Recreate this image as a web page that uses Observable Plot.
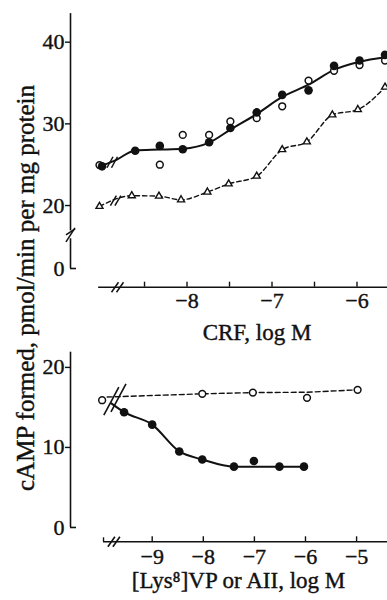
<!DOCTYPE html>
<html><head><meta charset="utf-8">
<script src="https://cdn.jsdelivr.net/npm/d3@7"></script>
<script src="https://cdn.jsdelivr.net/npm/@observablehq/plot@0.6"></script>
<style>
body{margin:0;background:#fff;}
#wrap{position:relative;width:387px;height:600px;overflow:hidden;font-family:"Liberation Serif",serif;}
#ylab{position:absolute;left:25px;top:288px;transform:translate(-50%,-50%) rotate(-90deg);white-space:nowrap;font-size:25px;line-height:1;color:#111;-webkit-text-stroke:0.4px #111;}
svg{display:block}
svg text{font-family:"Liberation Serif",serif;}
</style></head><body><div id="wrap"><div id="ylab"></div></div>
<script>
// ---------- DATA ----------
// Top panel: CRF dose-response (log M); the leftmost x is the control (no CRF), drawn left of the axis break
const crfFilledX = [-9.0, -8.61, -8.32, -8.05, -7.74, -7.49, -7.18, -6.88, -6.57, -6.27, -5.97, -5.67];
const crfFilledY = [24.8, 26.7, 27.3, 26.9, 27.75, 29.5, 31.4, 33.55, 34.1, 37.1, 37.75, 38.45];
const crfOpenX = [-9.03, -8.32, -8.05, -7.74, -7.49, -7.18, -6.88, -6.57, -6.27, -5.97, -5.67];
const crfOpenY = [24.95, 25.0, 28.65, 28.65, 30.3, 30.7, 32.15, 35.3, 36.5, 37.2, 37.75];
const crfFitX = [-9.02, -8.83, -8.61, -8.32, -8.05, -7.74, -7.49, -7.18, -6.88, -6.57, -6.27, -5.97, -5.67];
const crfFitY = [24.8, 25.6, 26.75, 26.85, 26.95, 27.7, 29.3, 31.2, 33.3, 34.8, 36.6, 37.6, 38.15];
const crfTriX = [-9.03, -8.65, -8.33, -8.07, -7.76, -7.51, -7.18, -6.88, -6.59, -6.29, -5.99, -5.67];
const crfTriY = [19.9, 21.2, 21.15, 20.7, 21.65, 22.65, 23.6, 26.85, 27.8, 31.1, 31.75, 34.5];
const crfXTicks = [-8.5, -8, -7.5, -7, -6.5, -6];
const crfXLabels = [-8, -7, -6];
const crfYTicks = [20, 30, 40];
const crfYLabels = [0, 20, 30, 40];
const crfTitle = "CRF, log M";

// Bottom panel: [Lys8]VP (filled) and AII (open); leftmost = control
const vpX = [-9.55, -9.0, -8.47, -8.02, -7.40, -7.01, -6.51, -6.03];
const vpY = [14.4, 12.85, 9.5, 8.5, 7.6, 8.3, 7.6, 7.6];
const vpFitX = [-9.8, -9.55, -9.0, -8.47, -8.02, -7.40, -6.51, -6.03];
const vpFitY = [15.5, 14.4, 12.85, 9.5, 8.5, 7.6, 7.6, 7.6];
const aiiX = [-9.98, -8.02, -7.03, -5.97, -4.98];
const aiiY = [15.9, 16.7, 16.85, 16.2, 17.2];
const aiiFitX = [-9.88, -8.02, -7.03, -5.97, -4.98];
const aiiFitY = [16.3, 16.7, 16.85, 16.9, 17.2];
const vpXTicks = [-9, -8, -7, -6, -5];
const vpYTicks = [10, 20];
const vpYLabels = [0, 10, 20];
const vpTitle = "[Lys\u2078]VP or AII, log M";
const yTitle = "cAMP formed, pmol/min per mg protein";

// ---------- helpers ----------
const zip = (xs, ys) => xs.map((x, i) => ({x, y: ys[i]}));
const minus = d => (d < 0 ? "\u2212" : "") + Math.abs(d);
const INK = "#111";
const FONT = "'Liberation Serif', serif";
const TXT = {fill: INK, stroke: INK, strokeWidth: 0.4, lineAnchor: "middle", fontFamily: FONT};
function slashPair(cx, cy, kx, ky, hw, hh, gap) {
  return [-gap / 2, gap / 2].map(o => ({
    x1: cx + (o - hw) / kx, y1: cy - hh / ky,
    x2: cx + (o + hw) / kx, y2: cy + hh / ky
  }));
}
function slash(cx, cy, kx, ky, hw, hh) {
  return {x1: cx - hw / kx, y1: cy - hh / ky, x2: cx + hw / kx, y2: cy + hh / ky};
}

const wrap = document.getElementById("wrap");
document.getElementById("ylab").textContent = yTitle;

// ---------- TOP PANEL ----------
{
  const W = 387, H = 340, mL = 70, mT = 13.1, mB = 53.3;
  const xDom = [-9.371, -5.641];
  const kx = (W - mL) / (xDom[1] - xDom[0]);
  const BRK = 16;                     // axis break value
  const kyUp = 8.167, kyLow = 1.894;  // px per unit above / below the break
  const squeeze = kyLow / kyUp;
  const T = v => (v >= BRK ? v : BRK - (BRK - v) * squeeze);
  const yBase = -9.87;                // value at the x-axis line (below the break)
  const frameW = W - mL, frameH = H - mT - mB;

  const breaks = [
    ...slashPair(-8.88, 25.3, kx, kyUp, 3, 5.5, 4.5),
    ...slashPair(-8.84, 20.6, kx, kyUp, 3, 5, 4.5),
    ...slashPair(-8.818, yBase, kx, kyLow, 3.5, 5, 5),
    slash(xDom[0], 16.76, kx, kyUp, 4.5, 3),
    slash(xDom[0], 15.68, kx, kyLow, 4.5, 3)
  ];

  const p = Plot.plot({
    width: W, height: H, marginLeft: mL, marginRight: 0, marginTop: mT, marginBottom: mB,
    style: {fontFamily: FONT, fontSize: "22px", color: INK, background: "white", overflow: "visible"},
    x: {domain: xDom, range: [mL, W], axis: null},
    y: {transform: T, domain: [T(yBase), 43.5], range: [H - mB, mT], axis: null},
    marks: [
      Plot.ruleY([yBase], {x1: -9.04, x2: xDom[1], stroke: INK, strokeWidth: 1.6}),
      Plot.ruleX(crfXTicks, {stroke: INK, strokeWidth: 1.4, insetTop: frameH - 5}),
      Plot.text(crfXLabels, {x: d => d, frameAnchor: "bottom", dy: 14, text: minus, fontSize: 22, ...TXT}),
      Plot.ruleX([xDom[0]], {y1: 16.9, y2: 43.5, stroke: INK, strokeWidth: 1.6}),
      Plot.ruleX([xDom[0]], {y1: 0, y2: 15.7, stroke: INK, strokeWidth: 1.6}),
      Plot.ruleY([0], {stroke: INK, strokeWidth: 1.6, insetRight: frameW - 6}),
      Plot.ruleY(crfYTicks, {stroke: INK, strokeWidth: 1.4, insetRight: frameW - 5, dx: -5}),
      Plot.text(crfYLabels, {y: d => d, frameAnchor: "left", dx: -6, textAnchor: "end", text: d => String(d), fontSize: 22, ...TXT}),
      Plot.text([crfTitle], {frameAnchor: "bottom", dx: 28, dy: 45, text: d => d, fontSize: 23, ...TXT}),
      Plot.line(zip(crfFitX, crfFitY), {x: "x", y: "y", curve: "monotone-x", stroke: INK, strokeWidth: 2}),
      Plot.line(zip(crfTriX, crfTriY), {x: "x", y: "y", curve: "monotone-x", stroke: INK, strokeWidth: 1.4, strokeDasharray: "4.5,3"}),
      Plot.link(breaks, {x1: "x1", y1: "y1", x2: "x2", y2: "y2", stroke: INK, strokeWidth: 1.5}),
      Plot.dot(zip(crfOpenX, crfOpenY), {x: "x", y: "y", r: 3.4, fill: "white", stroke: INK, strokeWidth: 1.5}),
      Plot.dot(zip(crfFilledX, crfFilledY), {x: "x", y: "y", r: 4.3, fill: INK, stroke: "none"}),
      Plot.dot(zip(crfTriX, crfTriY), {x: "x", y: "y", symbol: "triangle", r: 2.6, fill: "white", stroke: INK, strokeWidth: 1.4})
    ]
  });
  wrap.appendChild(p);
}

// ---------- BOTTOM PANEL ----------
{
  const W = 387, H = 260, mL = 70, mT = 11.7, mB = 58.7;
  const xDom = [-10.599, -4.395];
  const kx = (W - mL) / (xDom[1] - xDom[0]);
  const yBase = -1.79;
  const yDom = [yBase, 21.9];
  const ky = (H - mB - mT) / (yDom[1] - yDom[0]);
  const frameW = W - mL, frameH = H - mT - mB;
  const axisStart = -9.953;

  const breaks = [
    slash(-9.80, 15.8, kx, ky, 7.5, 14),
    slash(-9.66, 16.2, kx, ky, 7.5, 14),
    ...slashPair(-9.75, yBase, kx, ky, 3.5, 5, 5)
  ];

  const p = Plot.plot({
    width: W, height: H, marginLeft: mL, marginRight: 0, marginTop: mT, marginBottom: mB,
    style: {fontFamily: FONT, fontSize: "22px", color: INK, background: "white", overflow: "visible"},
    x: {domain: xDom, range: [mL, W], axis: null},
    y: {domain: yDom, range: [H - mB, mT], axis: null},
    marks: [
      Plot.ruleY([yBase], {x1: axisStart, x2: xDom[1], stroke: INK, strokeWidth: 1.6}),
      Plot.ruleX([axisStart], {stroke: INK, strokeWidth: 1.4, insetTop: frameH - 4}),
      Plot.ruleX(vpXTicks, {stroke: INK, strokeWidth: 1.4, insetTop: frameH - 5}),
      Plot.text(vpXTicks, {x: d => d, frameAnchor: "bottom", dy: 15.5, text: minus, fontSize: 22, ...TXT}),
      Plot.ruleX([xDom[0]], {y1: 0, y2: yDom[1], stroke: INK, strokeWidth: 1.6}),
      Plot.ruleY([0], {stroke: INK, strokeWidth: 1.6, insetRight: frameW - 6}),
      Plot.ruleY(vpYTicks, {stroke: INK, strokeWidth: 1.4, insetRight: frameW - 5, dx: -5}),
      Plot.text(vpYLabels, {y: d => d, frameAnchor: "left", dx: -6, textAnchor: "end", text: d => String(d), fontSize: 22, ...TXT}),
      Plot.text([vpTitle], {frameAnchor: "bottom", dx: 9.5, dy: 38.7, text: d => d, fontSize: 23, ...TXT}),
      Plot.line(zip(vpFitX, vpFitY), {x: "x", y: "y", curve: "monotone-x", stroke: INK, strokeWidth: 2}),
      Plot.line(zip(aiiFitX, aiiFitY), {x: "x", y: "y", curve: "linear", stroke: INK, strokeWidth: 1.4, strokeDasharray: "5,3"}),
      Plot.link(breaks, {x1: "x1", y1: "y1", x2: "x2", y2: "y2", stroke: INK, strokeWidth: 1.6}),
      Plot.dot(zip(aiiX, aiiY), {x: "x", y: "y", r: 3.4, fill: "white", stroke: INK, strokeWidth: 1.5}),
      Plot.dot(zip(vpX, vpY), {x: "x", y: "y", r: 4.3, fill: INK, stroke: "none"})
    ]
  });
  wrap.appendChild(p);
}
</script></body></html>
